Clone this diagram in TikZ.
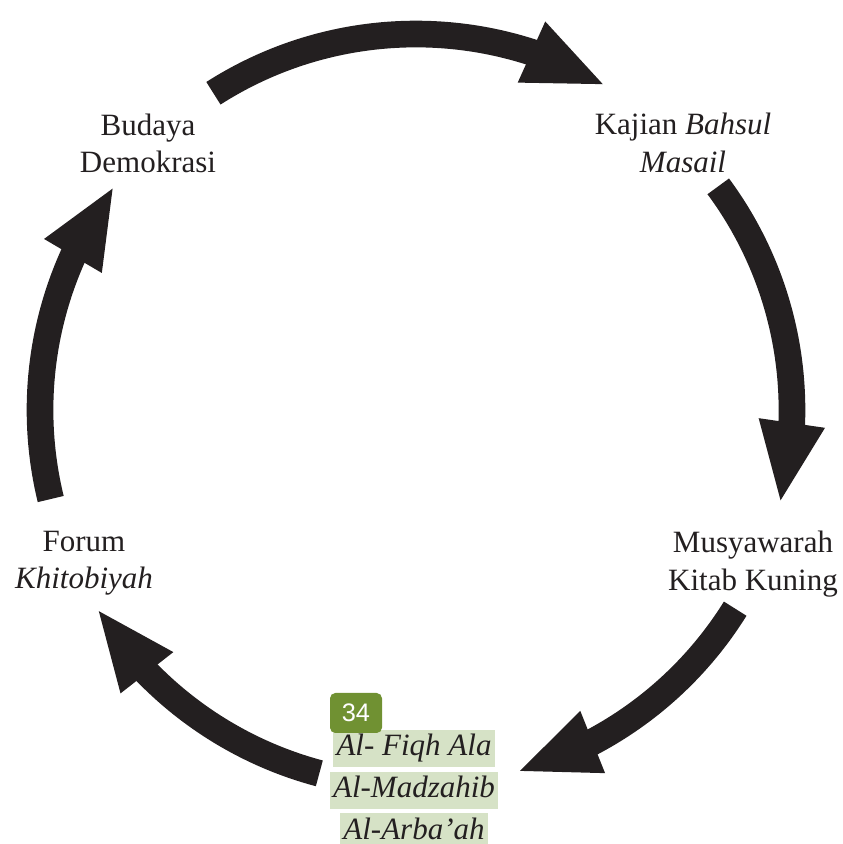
\documentclass[tikz,border=0pt]{standalone}
\usepackage{fontspec}
\setmainfont{Liberation Serif}
\newfontfamily\badgefont{Liberation Sans}
\usepackage{tikz}
\usetikzlibrary{arrows.meta, bending, positioning}

\definecolor{inkblack}{RGB}{35,31,32}
\definecolor{hlgreen}{RGB}{214,226,198}
\definecolor{badgegreen}{RGB}{112,145,50}

\begin{document}
\begin{tikzpicture}[
  x=0.75pt, y=0.75pt, node distance=3pt,
  stage/.style={align=center, text=inkblack, font=\fontsize{23.25pt}{28pt}\selectfont},
  hlline/.style={fill=hlgreen, text=inkblack, font=\fontsize{23.25pt}{28pt}\selectfont\itshape,
    text height=17pt, text depth=6pt, inner xsep=2.5pt, inner ysep=2.4pt},
  badge/.style={fill=badgegreen, text=white, rounded corners=4pt, minimum width=39pt,
    minimum height=30pt, font=\badgefont\fontsize{19pt}{19pt}\selectfont},
  cycarrow/.style={draw=inkblack, line width=20pt, -{Triangle[width=45pt, length=61.5pt]}}
]
  \useasboundingbox (0,0) rectangle (843,844);
  \coordinate (O) at (416,434);

  \node[stage] (budaya) at (148,700.5) {Budaya\\Demokrasi};
  \node[stage] (kajian) at (683,701) {Kajian \textit{Bahsul}\\\textit{Masail}};
  \node[stage] (musya) at (753,280) {Musyawarah\\Kitab Kuning};
  \node[stage] (forum) at (84,281) {Forum\\\textit{Khitobiyah}};

  \node[hlline] (alfiqh) at (414,95.5) {Al- Fiqh Ala};
  \node[hlline, below=of alfiqh] (almadz) {Al-Madzahib};
  \node[hlline, below=of almadz] (alarba) {Al-Arba'ah};
  \node[badge] (hal) at (356,131) {34};

  % arrows round the cycle
  \draw[cycarrow] ([shift={(122.6:376)}]O) arc[start angle=122.6, end angle=59.6, radius=376];
  \draw[cycarrow] ([shift={(36.5:376)}]O) arc[start angle=36.5, end angle=-14.5, radius=376];
  \draw[cycarrow] ([shift={(-31.9:376)}]O) arc[start angle=-31.9, end angle=-74.5, radius=376];
  \draw[cycarrow] ([shift={(255.1:376)}]O) arc[start angle=255.1, end angle=211.8, radius=376];
  \draw[cycarrow] ([shift={(193.7:376)}]O) arc[start angle=193.7, end angle=143.3, radius=376];
\end{tikzpicture}
\end{document}
